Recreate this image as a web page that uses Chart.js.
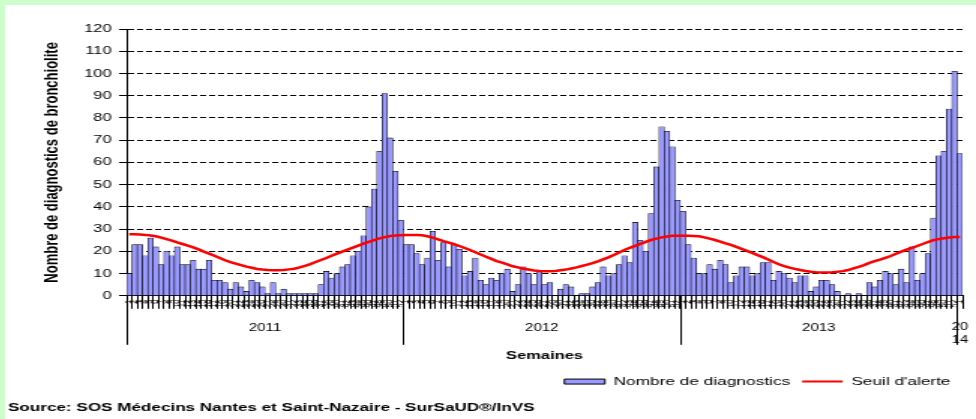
<!DOCTYPE html>
<html>
<head>
<meta charset="utf-8">
<script src="https://cdn.jsdelivr.net/npm/chart.js@4.4.0/dist/chart.umd.min.js"></script>
<style>
  html, body { margin: 0; padding: 0; background: #ccffcc; }
  #box { position: absolute; left: 5px; top: 5px; width: 971px; height: 414px; background: #fff; }
</style>
</head>
<body>
<div id="box"><canvas id="chart" width="647" height="414" style="width:971px;height:414px"></canvas></div>
<script>
// years shown under the axis and how many weeks each one has
const years = ['2011', '2012', '2013', '2014'];
const weeksPerYear = [52, 52, 52, 1];

// weekly number of bronchiolitis diagnoses
const counts2011 = [10, 23, 23, 18, 26, 22, 14, 20, 18, 22, 14, 14, 16, 12, 12, 16, 7, 7, 6, 3,
    6, 4, 2, 7, 6, 4, 1, 6, 1, 3, 1, 1, 1, 1, 1, 1, 5, 11, 8, 10,
    13, 14, 18, 20, 27, 40, 48, 65, 91, 71, 56, 34];
const counts2012 = [23, 23, 19, 14, 17, 29, 16, 24, 13, 23, 21, 9, 11, 17, 7, 5, 8, 7, 10, 12,
    2, 5, 13, 10, 5, 11, 5, 6, 0, 3, 5, 4, 0, 1, 1, 4, 6, 13, 9, 10,
    14, 18, 15, 33, 25, 20, 37, 58, 76, 74, 67, 43];
const counts2013 = [38, 23, 17, 10, 10, 14, 12, 16, 14, 6, 9, 13, 13, 9, 10, 15, 15, 7, 11, 10,
    8, 6, 9, 9, 2, 4, 7, 7, 5, 2, 0, 1, 0, 1, 0, 6, 4, 7, 11, 10,
    5, 12, 6, 22, 7, 10, 19, 35, 63, 65, 84, 101];
const counts2014 = [64];

// alert threshold
const alert2011 = [27.7, 27.7, 27.6, 27.4, 27.1, 26.8, 26.2, 25.5, 24.8, 24.0, 23.3, 22.6, 21.8, 20.9, 19.9, 19.0, 18.0, 17.0, 16.0, 15.2,
    14.5, 13.8, 13.1, 12.6, 12.1, 11.8, 11.6, 11.5, 11.5, 11.6, 11.9, 12.2, 12.8, 13.5, 14.3, 15.2, 16.1, 17.0, 18.0, 19.0,
    19.9, 20.8, 21.7, 22.6, 23.5, 24.3, 25.1, 25.8, 26.4, 26.9, 27.1, 27.2];
const alert2012 = [27.3, 27.3, 27.3, 27.2, 26.8, 26.2, 25.4, 24.6, 23.9, 23.2, 22.4, 21.5, 20.6, 19.6, 18.6, 17.6, 16.6, 15.6, 14.9, 14.1,
    13.3, 12.8, 12.2, 11.8, 11.4, 11.2, 11.1, 11.1, 11.2, 11.5, 11.8, 12.3, 12.8, 13.4, 14.0, 14.7, 15.5, 16.4, 17.3, 18.4,
    19.5, 20.6, 21.6, 22.5, 23.4, 24.3, 25.1, 25.7, 26.3, 26.7, 27.0, 27.0];
const alert2013 = [27.0, 27.0, 26.9, 26.8, 26.3, 25.7, 25.1, 24.4, 23.6, 22.9, 22.0, 21.1, 20.2, 19.3, 18.3, 17.4, 16.3, 15.2, 14.2, 13.4,
    12.7, 12.1, 11.6, 11.2, 10.8, 10.6, 10.5, 10.5, 10.6, 10.8, 11.1, 11.6, 12.3, 13.0, 13.8, 14.8, 15.6, 16.3, 17.1, 17.9,
    18.9, 19.9, 20.8, 21.6, 22.4, 23.3, 24.2, 25.0, 25.5, 25.9, 26.2, 26.4];
const alert2014 = [26.4];

const counts = counts2011.concat(counts2012, counts2013, counts2014);
const alerts = alert2011.concat(alert2012, alert2013, alert2014);

const weekLabels = [];
weeksPerYear.forEach(n => {
    for (let w = 1; w <= n; w++) weekLabels.push(String(w));
});

Chart.defaults.font.family = '"Liberation Sans", Arial, sans-serif';
Chart.defaults.color = '#000';

// second row of the x axis: year blocks
const yearRow = {
    id: 'yearRow',
    afterDraw(chart) {
        const xs = chart.scales.x;
        const ctx = chart.ctx;
        const half = (xs.getPixelForValue(1) - xs.getPixelForValue(0)) / 2;
        const top = xs.top;
        ctx.save();
        ctx.strokeStyle = '#000';
        ctx.lineWidth = 1;
        ctx.fillStyle = '#000';
        ctx.font = '10px "Liberation Sans", Arial, sans-serif';
        ctx.textAlign = 'center';
        ctx.textBaseline = 'middle';
        let start = 0;
        years.forEach((yr, k) => {
            const x0 = xs.getPixelForValue(start) - half;
            const x1 = xs.getPixelForValue(start + weeksPerYear[k] - 1) + half;
            const px = Math.round(x0) + 0.5;
            ctx.beginPath();
            ctx.moveTo(px, top);
            ctx.lineTo(px, top + 49);
            ctx.stroke();
            const mid = (x0 + x1) / 2;
            if (ctx.measureText(yr).width < x1 - x0) {
                ctx.fillText(yr, mid, top + 32);
            } else {
                ctx.fillText(yr.slice(0, 2), mid, top + 31);
                ctx.fillText(yr.slice(2), mid, top + 44);
            }
            start += weeksPerYear[k];
        });
        ctx.restore();
    }
};

new Chart(document.getElementById('chart'), {
    data: {
        labels: weekLabels,
        datasets: [{
            type: 'bar',
            label: 'Nombre de diagnostics',
            data: counts,
            backgroundColor: '#9999ff',
            borderColor: '#000000',
            borderWidth: 0.6,
            barPercentage: 1,
            categoryPercentage: 1,
            order: 2
        }, {
            type: 'line',
            label: "Seuil d'alerte",
            data: alerts,
            borderColor: '#ff0000',
            borderWidth: 2.5,
            pointRadius: 0,
            tension: 0,
            order: 1
        }]
    },
    options: {
        responsive: false,
        animation: false,
        layout: { padding: { left: 2, top: 24, right: 9, bottom: 0 } },
        scales: {
            x: {
                grid: { drawOnChartArea: false, tickLength: 13, color: '#000' },
                border: { color: '#000' },
                ticks: { font: { size: 7 }, maxRotation: 90, minRotation: 90, autoSkip: false, padding: -9 },
                title: { display: true, text: 'Semaines', font: { size: 11, weight: 'bold' }, padding: { top: 0, bottom: 5 } },
                afterFit: s => { s.height = 72; }
            },
            y: {
                min: 0,
                max: 120,
                ticks: { stepSize: 10, font: { size: 11 }, padding: 5 },
                grid: { color: '#000', tickLength: 5, tickColor: '#000' },
                border: { color: '#000', dash: [4, 2] },
                title: { display: true, text: 'Nombre de diagnostics de bronchiolite', font: { size: 13, weight: 'bold' }, padding: { top: 22, bottom: 0 } },
                afterFit: s => { s.width = 79; }
            }
        },
        plugins: {
            legend: {
                position: 'bottom',
                align: 'end',
                labels: {
                    font: { size: 11.5 },
                    usePointStyle: true,
                    pointStyleWidth: 27,
                    boxHeight: 5,
                    padding: 8,
                    generateLabels: chart => {
                        const items = Chart.defaults.plugins.legend.labels.generateLabels(chart);
                        items.sort((a, b) => a.datasetIndex - b.datasetIndex);
                        items[0].pointStyle = 'rect';
                        items[0].lineWidth = 1;
                        items[0].strokeStyle = '#000';
                        items[1].pointStyle = 'line';
                        items[1].lineWidth = 2;
                        items[1].strokeStyle = '#ff0000';
                        return items;
                    }
                }
            },
            title: {
                display: true,
                position: 'bottom',
                align: 'start',
                text: 'Source: SOS Médecins Nantes et Saint-Nazaire - SurSaUD®/InVS',
                font: { size: 11.4, weight: 'bold' },
                padding: { top: 4, bottom: 4 }
            },
            tooltip: { enabled: false }
        }
    },
    plugins: [yearRow]
});
</script>
</body>
</html>
